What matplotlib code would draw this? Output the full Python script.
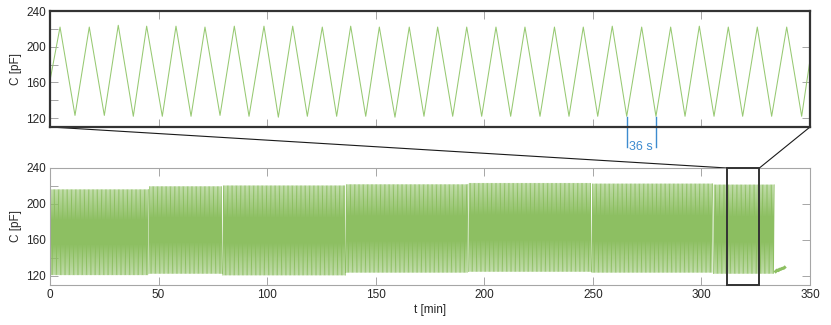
import numpy as np
import matplotlib
matplotlib.use("Agg")
import matplotlib.pyplot as plt
from matplotlib.patches import Rectangle, ConnectionPatch

plt.rcParams['font.family'] = ['Liberation Sans', 'DejaVu Sans']

# ---- data ----
# long run: segments between short gaps [start min, end min, peak pF, trough pF]
seg_start = [0.0, 45.6, 79.6, 136.3, 192.8, 249.6, 305.6]
seg_end = [45.4, 79.4, 136.1, 192.6, 249.4, 305.4, 333.6]
seg_peak = [216.0, 219.4, 220.3, 221.6, 223.0, 222.4, 221.3]
seg_trough = [121.3, 122.8, 121.0, 124.0, 125.0, 124.0, 122.8]
period_s = 36  # oscillation period

# tail after the run stops
tail_t = [334.2, 334.8, 335.4, 336.0, 336.6, 337.2, 337.8, 338.3]
tail_c = [125.0, 126.5, 126.0, 127.5, 127.5, 128.5, 128.5, 129.5]

# zoomed window (turning points, seconds from window start)
zoom_t0, zoom_t1 = 311.8, 326.7  # minutes
zoom_s = [0.0, 11.8, 29.4, 46.2, 63.9, 80.3, 98.0, 113.7, 132.1, 148.2, 165.9,
          182.3, 200.0, 216.8, 234.1, 251.7, 268.6, 285.5, 302.7, 320.3, 337.2,
          353.7, 371.4, 387.4, 405.8, 422.6, 439.9, 456.0, 473.7, 490.2, 507.8,
          524.6, 541.9, 558.7, 576.4, 593.4, 610.5, 627.3, 644.3, 661.4, 678.4,
          696.0, 712.8, 730.1, 747.0, 763.8, 781.1, 797.9, 814.8, 832.0, 848.9,
          866.6, 884.2, 894.0]
zoom_c = [162, 222, 123, 222, 123, 224, 122, 223, 122, 223, 122,
          222, 123, 223, 122, 223, 121, 223, 122, 222, 122,
          223, 122, 222, 121, 222, 122, 222, 122, 222, 122,
          222, 122, 222, 122, 222, 122, 222, 122, 223, 122,
          222, 122, 222, 122, 223, 122, 222, 122, 222, 122,
          222, 122, 185]
marked_troughs = [678.4, 712.8]  # the two troughs labelled 36 s

green = '#8dbf62'
green_light = '#97c972'
blue = '#3d8bcf'
dark = '#262626'
grey = '#a6a6a6'

# build the long trace from the turning points of each segment
t_all, c_all = [], []
for s, e, p, tr in zip(seg_start, seg_end, seg_peak, seg_trough):
    turns = np.arange(s, e, period_s / 2 / 60)
    vals = np.where(np.arange(len(turns)) % 2 == 0, tr, p)
    t_all += list(turns) + [np.nan]
    c_all += list(vals) + [np.nan]

fig = plt.figure(figsize=(8.31, 3.25), dpi=100)
ax_top = fig.add_axes([50 / 831, 1 - 127 / 325, 760 / 831, 116 / 325])
ax_bot = fig.add_axes([50 / 831, 1 - 285 / 325, 760 / 831, 117 / 325])

# ---- bottom: whole run ----
ax_bot.plot(t_all, c_all, color=green, lw=0.6)
ax_bot.plot(tail_t, tail_c, color=green, lw=2.2)
ax_bot.set_xlim(0, 350)
ax_bot.set_ylim(110, 240)
ax_bot.set_xticks(np.arange(0, 351, 50))
ax_bot.set_yticks([120, 160, 200, 240])
ax_bot.set_xlabel('t [min]', fontsize=8.5, color=dark, labelpad=2)
ax_bot.set_ylabel('C [pF]', fontsize=8.5, color=dark, labelpad=3)
ax_bot.add_patch(Rectangle((zoom_t0, 110), zoom_t1 - zoom_t0, 130, fill=False,
                           edgecolor='#333333', lw=1.4, zorder=5, clip_on=False))

# ---- top: zoomed window ----
zt = [zoom_t0 + s / 60 for s in zoom_s]
ax_top.plot(zt, zoom_c, color=green_light, lw=0.75)
ax_top.set_xlim(zoom_t0, zoom_t1)
ax_top.set_ylim(110, 240)
ax_top.set_xticks(np.linspace(zoom_t0, zoom_t1, 8))
ax_top.set_xticklabels([])
ax_top.set_yticks([120, 160, 200, 240])
ax_top.set_ylabel('C [pF]', fontsize=8.5, color=dark, labelpad=3)
for sp in ax_top.spines.values():
    sp.set_color('#333333')
    sp.set_linewidth(1.6)

for ax in (ax_top, ax_bot):
    ax.tick_params(direction='in', length=5.5, width=0.7, color=grey,
                   labelsize=8.5, labelcolor=dark, top=True, right=True, pad=3)
    ax.set_yticks([140, 180, 220], minor=True)
    ax.tick_params(which='minor', direction='in', length=5.5, width=0.7,
                   color=grey, left=True, right=False)
    ax.set_zorder(2)
for sp in ax_bot.spines.values():
    sp.set_color(grey)
    sp.set_linewidth(0.8)

# 36 s marker
for m in marked_troughs:
    ax_top.plot([zoom_t0 + m / 60] * 2, [121, 88], color=blue, lw=1.0, clip_on=False)
ax_top.text(zoom_t0 + sum(marked_troughs) / 2 / 60, 87.5, '36 s', color=blue,
            fontsize=9, ha='center', va='center', clip_on=False)

# connector lines between zoom box and zoom axes
for xa, xb in ((0, zoom_t0), (1, zoom_t1)):
    con = ConnectionPatch(xyA=(xa, 0), coordsA=ax_top.transAxes,
                          xyB=(xb, 240), coordsB=ax_bot.transData,
                          color='#1a1a1a', lw=0.8)
    fig.add_artist(con)

fig.savefig('out.png', dpi=100)
